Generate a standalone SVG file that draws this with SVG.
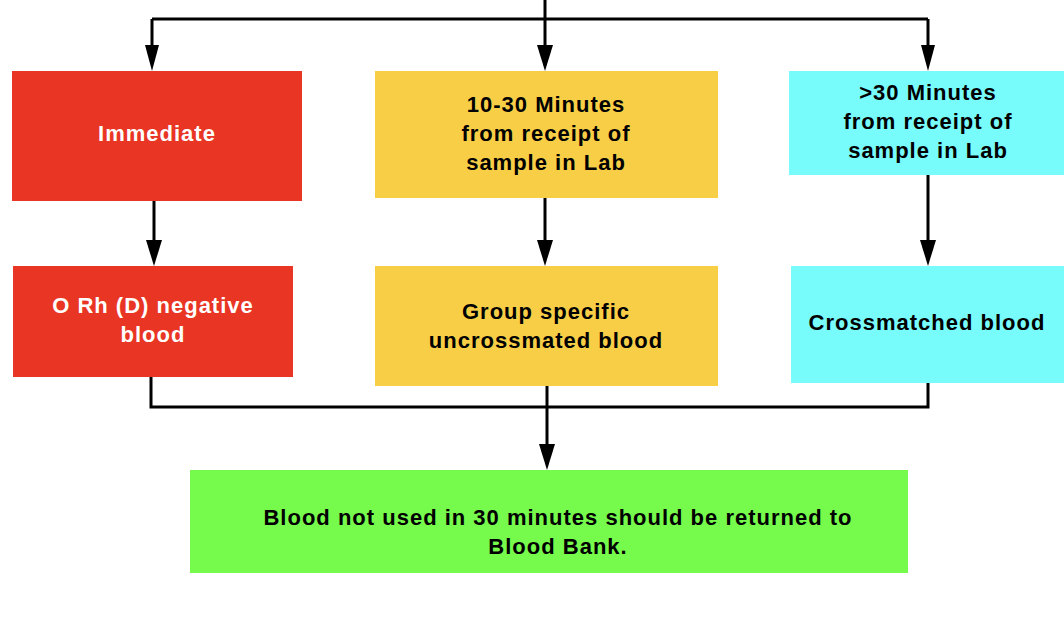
<svg xmlns="http://www.w3.org/2000/svg" width="1064" height="629" viewBox="0 0 1064 629">
<style>
.t{font-family:"Liberation Sans",Arial,sans-serif;font-weight:bold;font-size:22px;letter-spacing:1px;text-anchor:middle}
.w{fill:#ffffff}
.k{fill:#000000}
.c{fill:none;stroke:#000;stroke-width:3}
</style>
<rect width="1064" height="629" fill="#fff"/>
<g id="connectors">
<path class="c" d="M545,0 V19 M152,19 H928"/>
<path class="c" d="M152,19 V46"/>
<path d="M145,45 L159,45 L152,71 Z"/>
<path class="c" d="M545,19 V46"/>
<path d="M537,45 L553,45 L545,71 Z"/>
<path class="c" d="M928,19 V46"/>
<path d="M921,45 L935,45 L928,71 Z"/>
<path class="c" d="M154,201 V241"/>
<path d="M146,240 L162,240 L154,266 Z"/>
<path class="c" d="M545,198 V241"/>
<path d="M537,240 L553,240 L545,266 Z"/>
<path class="c" d="M928,175 V241"/>
<path d="M920,240 L936,240 L928,266 Z"/>
<path class="c" d="M151,377 V407 H928 V383"/>
<path class="c" d="M547,386 V445"/>
<path d="M539,444 L555,444 L547,470 Z"/>
</g>
<g id="immediate">
<rect x="12" y="71" width="290" height="130" fill="#E93524"/>
<text class="t w" x="157" y="141">Immediate</text>
</g>
<g id="min10-30">
<rect x="375" y="71" width="343" height="127" fill="#F8CE47"/>
<text class="t k" x="546" y="112">10-30 Minutes</text>
<text class="t k" x="546" y="141">from receipt of</text>
<text class="t k" x="546" y="170">sample in Lab</text>
</g>
<g id="min30">
<rect x="789" y="71" width="275" height="104" fill="#78FBFB"/>
<text class="t k" x="928" y="100">&gt;30 Minutes</text>
<text class="t k" x="928" y="129">from receipt of</text>
<text class="t k" x="928" y="158">sample in Lab</text>
</g>
<g id="orh">
<rect x="13" y="266" width="280" height="111" fill="#E93524"/>
<text class="t w" x="153" y="313">O Rh (D) negative</text>
<text class="t w" x="153" y="342">blood</text>
</g>
<g id="group">
<rect x="375" y="266" width="343" height="120" fill="#F8CE47"/>
<text class="t k" x="546" y="319">Group specific</text>
<text class="t k" x="546" y="348">uncrossmated blood</text>
</g>
<g id="crossmatched">
<rect x="791" y="266" width="273" height="117" fill="#78FBFB"/>
<text class="t k" x="927" y="330">Crossmatched blood</text>
</g>
<g id="returned">
<rect x="190" y="470" width="718" height="103" fill="#76FB4C"/>
<text class="t k" x="558" y="525">Blood not used in 30 minutes should be returned to</text>
<text class="t k" x="558" y="554">Blood Bank.</text>
</g>
</svg>
